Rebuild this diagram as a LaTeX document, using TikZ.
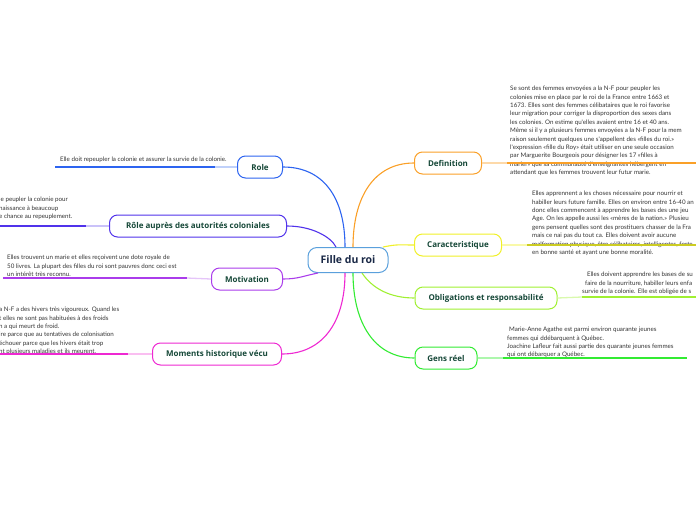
\documentclass[tikz,border=0pt]{standalone}
\usepackage{fontspec}
\setmainfont{Open Sans}
\newfontfamily\notefont{Lato}
\usetikzlibrary{positioning}
\definecolor{ink}{RGB}{22,72,56}
\definecolor{rootink}{RGB}{25,40,70}
\definecolor{rootline}{RGB}{90,160,220}
\definecolor{cRole}{RGB}{45,100,240}
\definecolor{cAuto}{RGB}{80,50,235}
\definecolor{cMotiv}{RGB}{170,60,235}
\definecolor{cMoment}{RGB}{238,40,210}
\definecolor{cDefin}{RGB}{250,160,40}
\definecolor{cCaract}{RGB}{240,240,40}
\definecolor{cOblig}{RGB}{160,240,50}
\definecolor{cGens}{RGB}{50,235,50}

\begin{document}
\begin{tikzpicture}[x=1pt,y=-1pt,
    rootbox/.style={draw=rootline,fill=white,rounded corners=9pt,line width=1pt,
      minimum width=80pt,minimum height=25pt,text=rootink,
      font=\fontsize{10.5}{12}\selectfont\bfseries},
    topic/.style={draw,fill=white,rounded corners=8pt,line width=1pt,
      minimum height=22pt,inner xsep=4pt,text=ink,
      font=\fontsize{8}{9}\selectfont\bfseries},
    note/.style={font=\notefont\fontsize{6.2}{8.4}\selectfont,text=black!80,
      align=left,inner sep=0pt,anchor=north west},
    branch/.style={line width=1.1pt},
    lead/.style={line width=1.3pt}]
  \useasboundingbox (0,0) rectangle (696,520);
  \clip (0,0) rectangle (696,520);

  \node[rootbox] (root) at (348,260) {Fille du roi};

  \node[topic,draw=cRole,minimum width=45pt] (role) at (260,167) {Role};
  \node[topic,draw=cAuto,minimum width=177pt] (autorites) at (198,226) {Rôle auprès des autorités coloniales};
  \node[topic,draw=cMotiv,minimum width=71pt] (motiv) at (247,279) {Motivation};
  \node[topic,draw=cMoment,minimum width=129pt] (moments) at (217,354) {Moments historique vécu};
  \node[topic,draw=cDefin,minimum width=67pt] (defin) at (448,163) {Definition};
  \node[topic,draw=cCaract,minimum width=87pt] (caract) at (458,245) {Caracteristique};
  \node[topic,draw=cOblig,minimum width=142pt] (oblig) at (486,298) {Obligations et responsabilité};
  \node[topic,draw=cGens,minimum width=62pt] (gens) at (446,358) {Gens réel};

  \draw[branch,cRole] ([xshift=-3pt]root.north) .. controls +(0,-50) and +(40,0) .. (role.east);
  \draw[branch,cAuto] ([xshift=-12pt]root.north) .. controls +(-5,-10) and +(25,0) .. (autorites.east);
  \draw[branch,cMotiv] ([xshift=-30pt]root.south) .. controls +(-15,3) and +(15,0) .. (motiv.east);
  \draw[branch,cMoment] ([xshift=-3pt]root.south) .. controls +(0,50) and +(40,0) .. (moments.east);
  \draw[branch,cDefin] ([xshift=5pt]root.north) .. controls +(0,-50) and +(-40,0) .. (defin.west);
  \draw[branch,cCaract] ([xshift=35pt]root.north) .. controls +(15,-3) and +(-15,0) .. (caract.west);
  \draw[branch,cOblig] ([xshift=14pt]root.south) .. controls +(10,15) and +(-25,0) .. (oblig.west);
  \draw[branch,cGens] ([xshift=5pt]root.south) .. controls +(0,50) and +(-40,0) .. (gens.west);

  \node[note] (roletxt) at (60,157) {Elle doit repeupler la colonie et assurer la survie de la colonie.};
  \node[note] (autotxt) at (-1,197) {le peupler la colonie pour\\naissance à beaucoup\\e chance au repeuplement.};
  \node[note] (motivtxt) at (7,255) {Elles trouvent un marie et elles reçoivent une dote royale de\\50 livres. La plupart des filles du roi sont pauvres donc ceci est\\un intérêt très reconnu.};
  \node[note] (momtxt) at (-1,307) {a N-F a des hivers très vigoureux. Quand les\\t elles ne sont pas habituées à des froids\\n a qui meurt de froid.\\ire parce que au tentatives de colonisation\\échouer parce que les hivers était trop\\nt plusieurs maladies et ils meurent.};
  \node[note] (defintxt) at (510,86) {Se sont des femmes envoyées a la N-F pour peupler les\\colonies mise en place par le roi de la France entre 1663 et\\1673. Elles sont des femmes célibataires que le roi favorise\\leur migration pour corriger la disproportion des sexes dans\\les colonies. On estime qu'elles avaient entre 16 et 40 ans.\\Même si il y a plusieurs femmes envoyées a la N-F pour la mem\\raison seulement quelques une s'appellent des «filles du roi.»\\l'expression «fille du Roy» était utiliser en une seule occasion\\par Marguerite Bourgeois pour désigner les 17 «filles à\\marier» que sa communauté d'enseignantes hébergent en\\attendant que les femmes trouvent leur futur marie.};
  \node[note] (caracttxt) at (532,191) {Elles apprennent a les choses nécessaire pour nourrir et\\habiller leurs future famille. Elles on environ entre 16-40 an\\donc elles commencent à apprendre les bases des une jeu\\Age. On les appelle aussi les «mères de la nation.» Plusieu\\gens pensent quelles sont des prostituers chasser de la Fra\\mais ce nai pas du tout ca. Elles doivent avoir aucune\\malformation physique, être célibataires, intelligentes, forte\\en bonne santé et ayant une bonne moralité.};
  \node[note] (obligtxt) at (582,272) {\hspace*{5pt}Elles doivent apprendre les bases de su\\\hspace*{3pt}faire de la nourriture, habiller leurs enfa\\survie de la colonie. Elle est obligée de s};
  \node[note] (genstxt) at (507,327) {\hspace*{2pt}Marie-Anne Agathe est parmi environ quarante jeunes\\femmes qui ddébarquent à Québec.\\Joachine Lafleur fait aussi partie des quarante jeunes femmes\\qui ont débarquer a Québec.};

  \coordinate (roleA) at (55,167);
  \coordinate (roleB) at (215,167);
  \coordinate (autoA) at (-5,226);
  \coordinate (autoB) at (86,226);
  \coordinate (motivA) at (3,278);
  \coordinate (motivB) at (187,278);
  \coordinate (momA) at (-5,354);
  \coordinate (momB) at (128,354);
  \coordinate (definA) at (507,163);
  \coordinate (definB) at (700,163);
  \coordinate (caractA) at (527,245);
  \coordinate (caractB) at (700,245);
  \coordinate (obligA) at (582,297);
  \coordinate (obligB) at (700,297);
  \coordinate (gensA) at (503,358);
  \coordinate (gensB) at (687,358);

  \draw[lead,cRole!30] (role.west) -- (roleB);
  \draw[lead,cRole] (roleB) -- (roleA);
  \draw[lead,cAuto!30] (autorites.west) -- (autoB);
  \draw[lead,cAuto] (autoB) -- (autoA);
  \draw[lead,cMotiv!30] (motiv.west) -- (motivB);
  \draw[lead,cMotiv] (motivB) -- (motivA);
  \draw[lead,cMoment!30] (moments.west) -- (momB);
  \draw[lead,cMoment] (momB) -- (momA);
  \draw[lead,cDefin!40] (defin.east) -- (definA);
  \draw[lead,cDefin] (definA) -- (definB);
  \draw[lead,cCaract!40] (caract.east) -- (caractA);
  \draw[lead,cCaract!85!black] (caractA) -- (caractB);
  \draw[lead,cOblig!40] (oblig.east) -- (obligA);
  \draw[lead,cOblig] (obligA) -- (obligB);
  \draw[lead,cGens!40] (gens.east) -- (gensA);
  \draw[lead,cGens] (gensA) -- (gensB);
\end{tikzpicture}
\end{document}
